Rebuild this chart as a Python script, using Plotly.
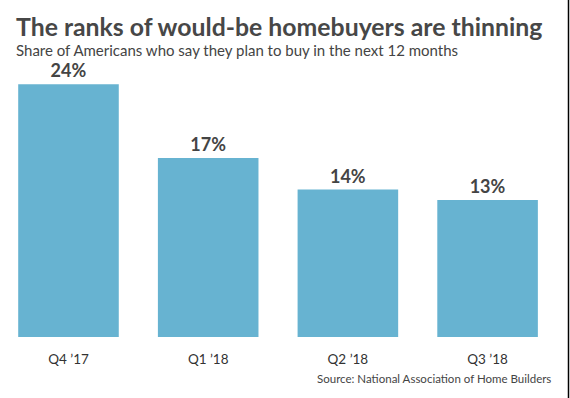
import plotly.graph_objects as go

categories = ["Q4 ’17", "Q1 ’18", "Q2 ’18", "Q3 ’18"]
values = [24, 17, 14, 13]
labels = ["24%", "17%", "14%", "13%"]

W, H = 570, 398
ML, MR, MT, MB = 0, 0, 21, 61
ph = H - MT - MB

def py(p):  # reference pixel y -> paper y
    return (H - MB - p) / ph

def px(p):  # reference pixel x -> paper x
    return p / W

BAR = "#67b3d1"
TXT = "#444444"

fig = go.Figure(go.Bar(
    x=categories, y=values, width=0.72,
    marker=dict(color=BAR, line=dict(width=0)),
    text=labels, textposition="outside", cliponaxis=False,
    textfont=dict(family="Lato", size=18, color=TXT, weight="bold"),
))

fig.update_layout(
    width=W, height=H,
    margin=dict(l=ML, r=MR, t=MT, b=MB, pad=0),
    paper_bgcolor="white", plot_bgcolor="white",
    showlegend=False,
    xaxis=dict(range=[-0.4903, 3.590], showgrid=False, zeroline=False,
               showline=False, ticks="", ticklabelstandoff=12,
               tickfont=dict(family="Lato", size=13.5, color="#333333")),
    yaxis=dict(range=[0, 30], visible=False),
    annotations=[
        dict(text="<b>The ranks of would-be homebuyers are thinning</b>",
             xref="paper", yref="paper", x=px(14), y=py(27), xanchor="left",
             yanchor="middle", showarrow=False,
             font=dict(family="Lato", size=24.8, color="#474747")),
        dict(text="Share of Americans who say they plan to buy in the next 12 months",
             xref="paper", yref="paper", x=px(14), y=py(49.5), xanchor="left",
             yanchor="middle", showarrow=False,
             font=dict(family="Lato", size=15, color="#444444")),
        dict(text="Source: National Association of Home Builders",
             xref="paper", yref="paper", x=px(553), y=py(378), xanchor="right",
             yanchor="middle", showarrow=False,
             font=dict(family="Lato", size=11.5, color="#444444")),
    ],
    shapes=[dict(type="line", xref="paper", yref="paper",
                 x0=px(568.5), x1=px(568.5), y0=py(398), y1=py(0),
                 line=dict(color="black", width=1.5))],
)

fig.write_html("out.html",
               config={"displayModeBar": False},
               post_script="document.body.style.margin='0';"
                           "document.body.style.overflow='hidden';")
